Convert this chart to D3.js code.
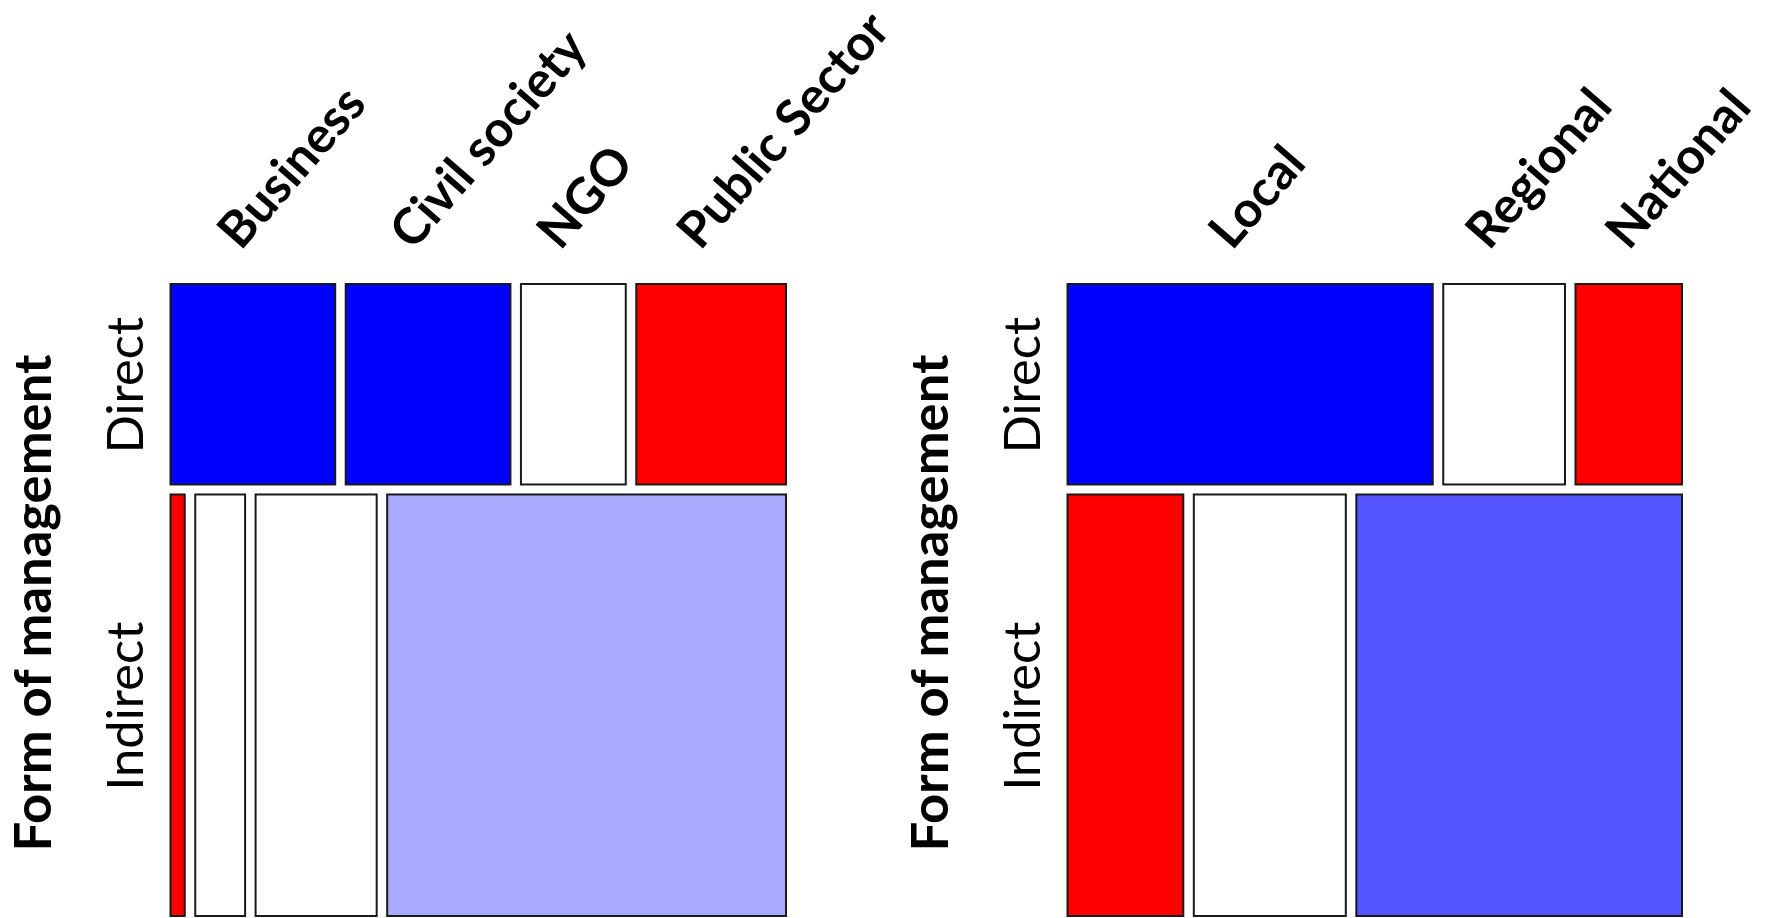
<!DOCTYPE html>
<html><head><meta charset="utf-8">
<script src="https://cdn.jsdelivr.net/npm/d3@7"></script>
<style>body{margin:0;background:#fff;} svg{display:block;}</style>
</head><body>
<svg id="chart" width="1771" height="918"></svg>
<script>
// ---- data ----
const rowLabels = ["Direct", "Indirect"];
const orgCategories = ["Business", "Civil society", "NGO", "Public Sector"];
const orgDirect = [11, 11, 7, 10];
const orgIndirect = [2, 7, 17, 56];
const levelCategories = ["Local", "Regional", "National"];
const levelDirect = [24, 8, 7];
const levelIndirect = [16, 21, 45];
const axisTitle = "Form of management";

// ---- shading (styles) ----
const orgDirectFill = ["#0000FF", "#0000FF", "#FFFFFF", "#FF0000"];
const orgIndirectFill = ["#FF0000", "#FFFFFF", "#FFFFFF", "#AAAAFF"];
const levelDirectFill = ["#0000FF", "#FFFFFF", "#FF0000"];
const levelIndirectFill = ["#FF0000", "#FFFFFF", "#5555FF"];

// ---- layout ----
const FONT = "Lato, 'Open Sans', sans-serif";
const tileTop = 284, tileBottom = 916, rowGap = 10, colGap = 10.5;
const panels = [
  { cats: orgCategories, rows: [orgDirect, orgIndirect], fills: [orgDirectFill, orgIndirectFill],
    x0: 170.5, x1: 786, nudge: [-12, -15, -13, -11] },
  { cats: levelCategories, rows: [levelDirect, levelIndirect], fills: [levelDirectFill, levelIndirectFill],
    x0: 1067.5, x1: 1682, nudge: [-18, -15, 0] }
];

const svg = d3.select("#chart");

function fitSize(text, weight, target) {
  const t = svg.append("text").attr("font-family", FONT).attr("font-weight", weight)
    .attr("font-size", 50).text(text);
  const len = t.node().getComputedTextLength();
  t.remove();
  return 50 * target / len;
}
const titleSize = fitSize(axisTitle, "bold", 497);
const rowSize = (fitSize("Direct", "normal", 132) + fitSize("Indirect", "normal", 175)) / 2;
const colSize = fitSize("Business", "bold", 194);

panels.forEach(p => {
  const g = svg.append("g");
  const rowTotals = p.rows.map(r => d3.sum(r));
  const grand = d3.sum(rowTotals);
  const y = d3.scaleLinear().domain([0, grand])
    .range([tileTop, tileBottom - rowGap * (p.rows.length - 1)]);
  const rowStarts = [0, ...d3.cumsum(rowTotals)];
  const centersTop = [];

  p.rows.forEach((vals, r) => {
    const n = vals.length;
    const x = d3.scaleLinear().domain([0, rowTotals[r]]).range([p.x0, p.x1 - colGap * (n - 1)]);
    const starts = [0, ...d3.cumsum(vals)];
    const y0 = y(rowStarts[r]) + r * rowGap;
    const h = y(rowTotals[r]) - y(0);
    const tiles = vals.map((v, i) => ({
      x: x(starts[i]) + i * colGap, w: x(v) - x(0), y: y0, h: h, fill: p.fills[r][i]
    }));
    if (r === 0) tiles.forEach(t => centersTop.push(t.x + t.w / 2));
    g.selectAll(null).data(tiles).enter().append("rect")
      .attr("x", d => d.x).attr("y", d => d.y)
      .attr("width", d => d.w).attr("height", d => d.h)
      .attr("fill", d => d.fill)
      .attr("stroke", "#1a1a1a").attr("stroke-width", 2);

    // row label
    g.append("text")
      .attr("transform", `translate(${p.x0 - 27.5},${y0 + h / 2 + 1}) rotate(-90)`)
      .attr("text-anchor", "middle")
      .attr("font-family", FONT).attr("font-size", rowSize)
      .attr("fill", "#000")
      .text(rowLabels[r]);
  });

  // axis title
  g.append("text")
    .attr("transform", `translate(${p.x0 - 119.5},${(tileTop + tileBottom) / 2 + 3}) rotate(-90)`)
    .attr("text-anchor", "middle")
    .attr("font-family", FONT).attr("font-weight", "bold").attr("font-size", titleSize)
    .attr("fill", "#000")
    .text(axisTitle);

  // column labels
  g.selectAll(null).data(p.cats).enter().append("text")
    .attr("transform", (d, i) => `translate(${centersTop[i] + p.nudge[i]},251.5) rotate(-49)`)
    .attr("text-anchor", "start")
    .attr("font-family", FONT).attr("font-weight", "bold").attr("font-size", colSize)
    .attr("fill", "#000")
    .text(d => d);
});
</script>
</body></html>
